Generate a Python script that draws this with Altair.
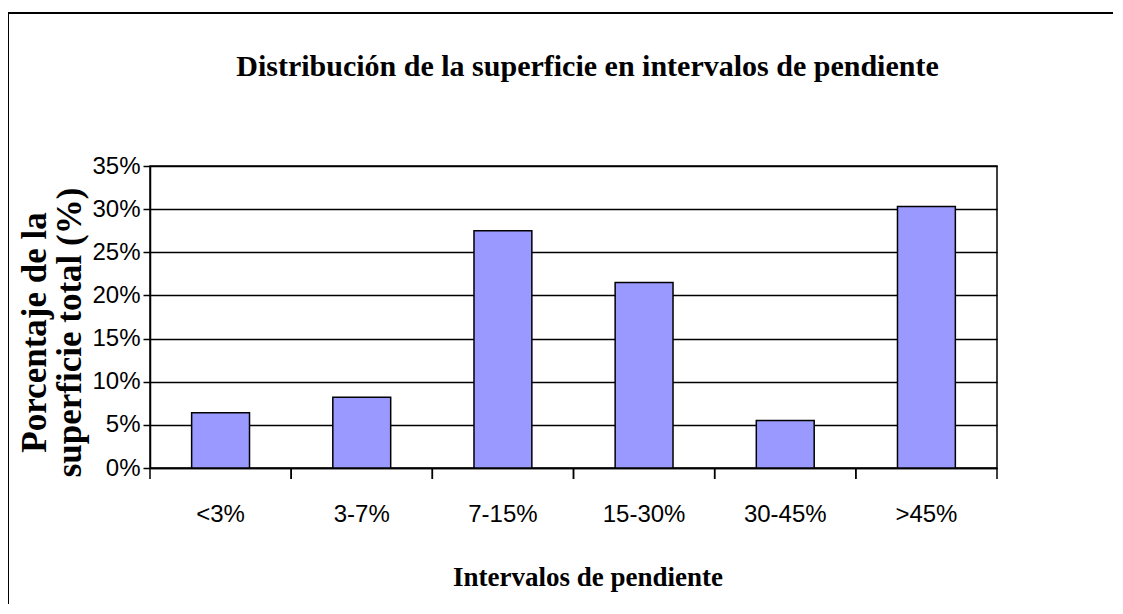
import altair as alt
import pandas as pd

categories = ["<3%", "3-7%", "7-15%", "15-30%", "30-45%", ">45%"]
values = [0.064, 0.082, 0.275, 0.215, 0.055, 0.303]
y_ticks = [0, 0.05, 0.10, 0.15, 0.20, 0.25, 0.30, 0.35]
title_text = "Distribución de la superficie en intervalos de pendiente"
x_title = "Intervalos de pendiente"
y_title = ["Porcentaje de la", "superficie total (%)"]

df = pd.DataFrame({"cat": categories, "val": values})

W, H = 847, 302
xscale = alt.Scale(domain=categories, paddingInner=0, paddingOuter=0)

LABEL_FONT = "Liberation Sans"

x_axis = alt.Axis(
    labelFont=LABEL_FONT, labelFontSize=24, labelColor="black",
    labelAngle=0, labelPadding=34, ticks=False, grid=False,
    domainColor="black", domainWidth=1.5,
    title=x_title, titleFont="Liberation Serif", titleFontSize=27,
    titleFontWeight="bold", titleColor="black", titleX=437.5, titleY=117,
    titleBaseline="alphabetic",
)
y_axis = alt.Axis(
    values=y_ticks, format=".0%",
    labelFont=LABEL_FONT, labelFontSize=24, labelColor="black",
    labelPadding=3, tickSize=7, tickColor="black", tickWidth=1.5,
    domainColor="black", domainWidth=1.5,
    grid=True, gridColor="black", gridWidth=1.5, gridOpacity=1,
    title=y_title, titleFont="Liberation Serif", titleFontSize=35,
    titleFontWeight="bold", titleColor="black", titleAngle=270,
    titleX=-105, titleY=166, titleBaseline="alphabetic", titleAlign="center",
    titleLineHeight=35,
)


def xenc(band=None):
    if band is None:
        return alt.X("cat:N", scale=xscale, sort=categories, axis=x_axis, title=x_title)
    return alt.X("cat:N", scale=xscale, sort=categories, axis=x_axis, title=x_title,
                 bandPosition=band)


base = alt.Chart(df)

bars = base.mark_bar(
    fill="#9999FF", stroke="black", strokeWidth=1.5, width=alt.RelativeBandSize(0.41)
).encode(
    x=xenc(),
    y=alt.Y("val:Q", scale=alt.Scale(domain=[0, 0.35]), axis=y_axis),
)

ticks0 = base.mark_rule(color="black", strokeWidth=1.5).encode(
    x=xenc(0), y=alt.value(H), y2=alt.value(H + 11)
)
ticks1 = base.mark_rule(color="black", strokeWidth=1.5).encode(
    x=xenc(1), y=alt.value(H), y2=alt.value(H + 11)
)

single = pd.DataFrame({"a": [0]})

border_top = alt.Chart(single).mark_rule(color="black", strokeWidth=2).encode(
    x=alt.value(-143), x2=alt.value(W + 400), y=alt.value(-153)
)
border_left = alt.Chart(single).mark_rule(color="black", strokeWidth=2).encode(
    x=alt.value(-142), y=alt.value(-154), y2=alt.value(H + 400)
)

title = alt.Chart(single).mark_text(
    font="Liberation Serif", fontSize=30, fontWeight="bold", color="black",
    align="center", baseline="alphabetic",
).encode(
    x=alt.value(W / 2 + 14), y=alt.value(-90), text=alt.value(title_text)
)

chart = alt.layer(border_top, border_left, title, bars, ticks0, ticks1).properties(
    width=W, height=H,
    autosize=alt.AutoSizeParams(type="none"),
    padding={"left": 142, "top": 158, "right": 116, "bottom": 136},
).configure_view(stroke="black", strokeWidth=1.5)

chart.save("out.html", embed_options={"renderer": "svg", "actions": False})
